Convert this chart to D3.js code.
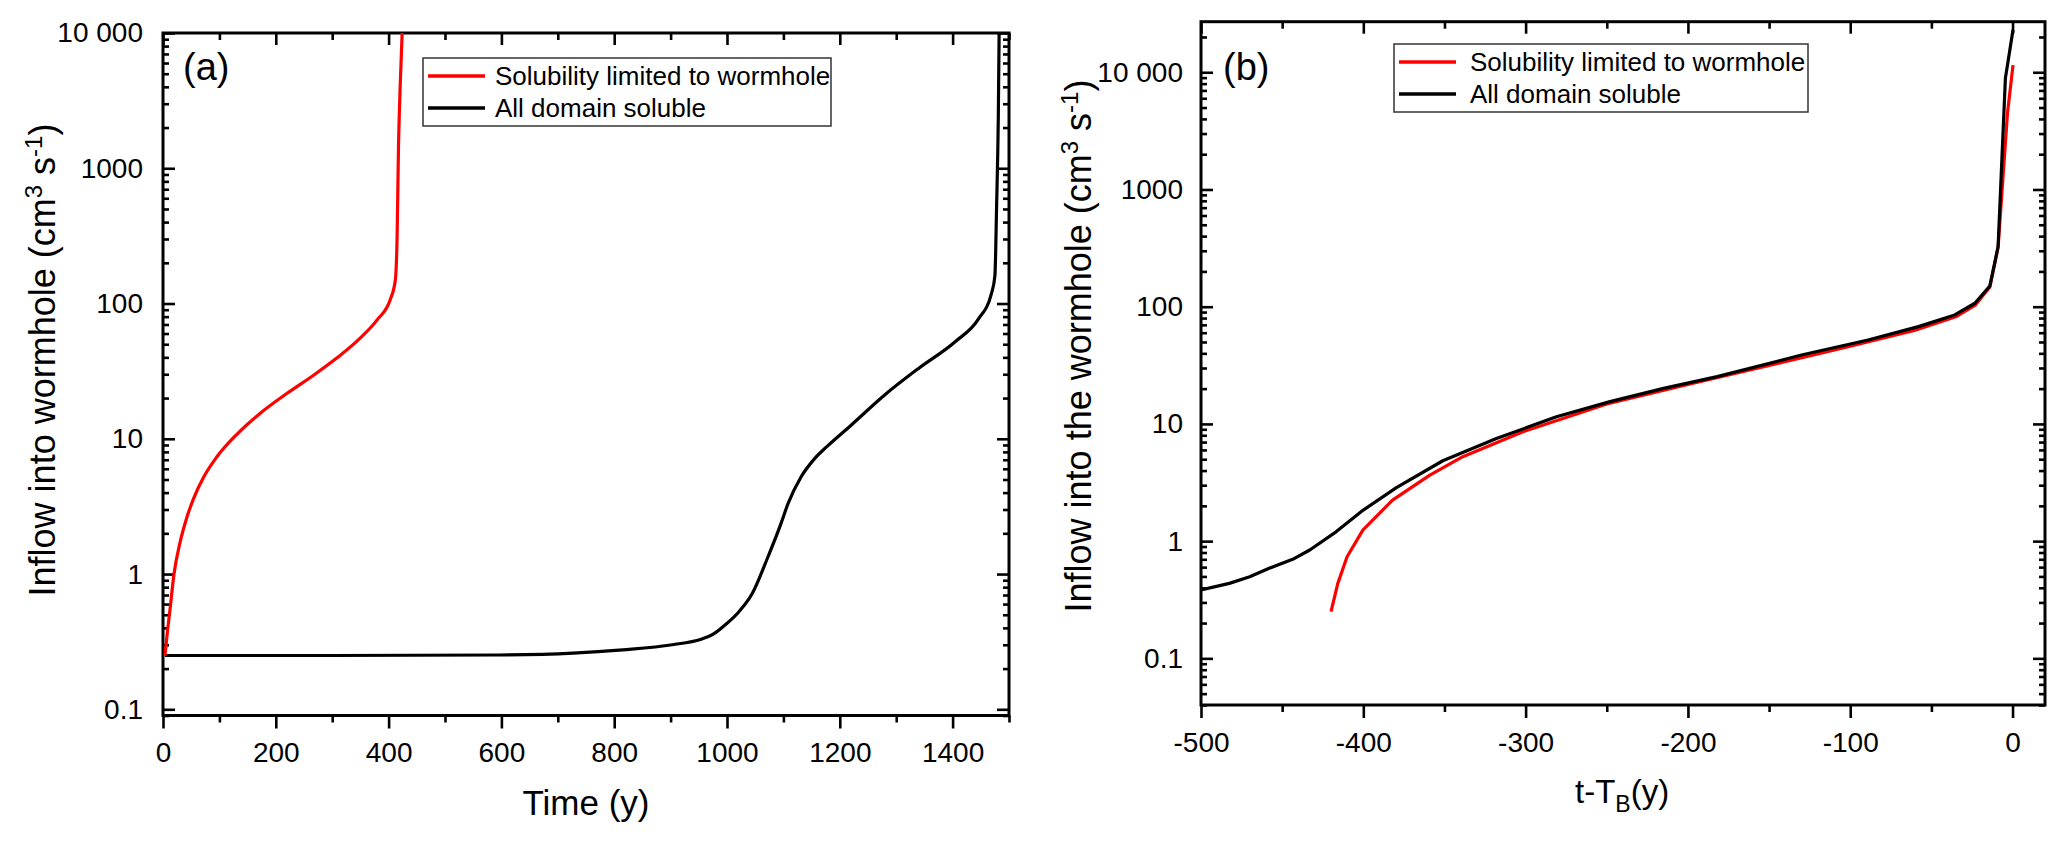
<!DOCTYPE html>
<html lang="en">
<head>
  <meta charset="UTF-8">
  <title>Inflow into wormhole</title>
  <style>
    body { margin: 0; background: #fff; }
    text { font-family: "Liberation Sans", Arial, sans-serif; fill: #000; }
  </style>
</head>
<body>

  <div id="app"></div>

  <script src="https://cdn.jsdelivr.net/npm/d3@7"></script>
  <script>
    // legend entries
    const seriesNames = ['Solubility limited to wormhole', 'All domain soluble']
    const seriesColors = ['#ff0000', '#000000']

    // panel (a): time (y) vs inflow (cm3/s)
    const aTimeLimited = [3.5, 8, 12.4, 19.5, 30, 42, 54, 72, 95, 131, 172, 220, 267, 308, 350, 380, 403, 412, 415, 417.5, 420.5, 424]
    const aFlowLimited = [0.25, 0.38, 0.545, 1.0, 1.7, 2.6, 3.6, 5.2, 7.3, 10.8, 15.4, 21.7, 29.5, 39.5, 55.7, 76, 107, 150, 300, 1400, 4000, 10000]
    const aTimeAll = [3.5, 100, 300, 594, 727, 815, 903, 954, 974, 995, 1020, 1045, 1072, 1096, 1108, 1131, 1155, 1179, 1220, 1279, 1339, 1404, 1445, 1469, 1475, 1478, 1481, 1482.5]
    const aFlowAll = [0.25, 0.25, 0.25, 0.252, 0.26, 0.275, 0.30, 0.33, 0.356, 0.415, 0.52, 0.72, 1.32, 2.38, 3.3, 5.2, 7.1, 8.9, 12.6, 21, 33, 52, 76, 119, 160, 520, 2330, 10000]

    // panel (b): t - T_B (y) vs inflow (cm3/s)
    const bTimeLimited = [-419.9, -415.7, -410, -400.3, -382, -359, -338.7, -301.7, -250, -200, -150, -100, -60, -35, -23, -14, -8.9, -3.1, 0.3]
    const bFlowLimited = [0.25, 0.436, 0.736, 1.24, 2.24, 3.66, 5.25, 8.57, 14.8, 21.7, 31.5, 46, 63, 82, 103, 147, 320, 4500, 11500]
    const bTimeAll = [-500, -482.5, -470, -458, -443.5, -433, -416.8, -400, -379.6, -351, -318, -281, -248, -215, -182, -130, -89, -58, -35.6, -23.2, -14, -8.9, -4.4, 0.3]
    const bFlowAll = [0.383, 0.436, 0.497, 0.586, 0.70, 0.84, 1.2, 1.84, 2.86, 4.85, 7.5, 11.5, 15.5, 20.1, 25.3, 38.7, 52, 67.6, 85, 107, 150, 325, 8900, 23000]

    // ticks
    const yMajor = [0.1, 1, 10, 100, 1000, 10000]
    const yMajorLabels = ['0.1', '1', '10', '100', '1000', '10 000']
    const aXMajor = [0, 200, 400, 600, 800, 1000, 1200, 1400]
    const aXMinor = [100, 300, 500, 700, 900, 1100, 1300, 1500]
    const bXMajor = [-500, -400, -300, -200, -100, 0]
    const bXMinor = [-450, -350, -250, -150, -50]

    const svg = d3.select('#app').append('svg')
      .attr('width', 2067)
      .attr('height', 842)

    const isDecade = v => Math.abs(Math.log10(v) - Math.round(Math.log10(v))) < 1e-9

    function drawPanel(p) {
      const x = p.x, y = p.y
      const [x0, x1] = x.range()
      const [y0, y1] = y.range()
      const g = svg.append('g')

      svg.append('clipPath').attr('id', p.id)
        .append('rect')
        .attr('x', x0).attr('y', y1)
        .attr('width', x1 - x0).attr('height', y0 - y1)

      const yMinor = y.ticks().filter(v => !isDecade(v))

      const style = sel => {
        sel.select('.domain').remove()
        sel.selectAll('line').attr('stroke', '#000').attr('stroke-width', 2.6)
        sel.selectAll('text')
          .attr('font-size', 28)
          .attr('font-family', '"Liberation Sans", Arial, sans-serif')
          .attr('fill', '#000')
      }

      // bottom (outward)
      g.append('g').attr('transform', `translate(0,${y0})`)
        .call(d3.axisBottom(x).tickValues(p.xMajor).tickSize(13).tickPadding(14).tickFormat(d => String(d)))
        .call(style)
      g.append('g').attr('transform', `translate(0,${y0})`)
        .call(d3.axisBottom(x).tickValues(p.xMinor).tickSize(7).tickFormat(''))
        .call(style)
      // top (inward)
      g.append('g').attr('transform', `translate(0,${y1})`)
        .call(d3.axisTop(x).tickValues(p.xMajor).tickSize(-12).tickFormat(''))
        .call(style)
      g.append('g').attr('transform', `translate(0,${y1})`)
        .call(d3.axisTop(x).tickValues(p.xMinor).tickSize(-7).tickFormat(''))
        .call(style)
      // left (inward)
      g.append('g').attr('transform', `translate(${x0},0)`)
        .call(d3.axisLeft(y).tickValues(yMajor).tickSize(-12).tickPadding(p.yPad)
          .tickFormat((d, i) => yMajorLabels[i]))
        .call(style)
      g.append('g').attr('transform', `translate(${x0},0)`)
        .call(d3.axisLeft(y).tickValues(yMinor).tickSize(-6).tickFormat(''))
        .call(style)
      // right (inward)
      g.append('g').attr('transform', `translate(${x1},0)`)
        .call(d3.axisRight(y).tickValues(yMajor).tickSize(-12).tickFormat(''))
        .call(style)
      g.append('g').attr('transform', `translate(${x1},0)`)
        .call(d3.axisRight(y).tickValues(yMinor).tickSize(-6).tickFormat(''))
        .call(style)

      // frame
      g.append('rect')
        .attr('x', x0).attr('y', y1)
        .attr('width', x1 - x0).attr('height', y0 - y1)
        .attr('fill', 'none').attr('stroke', '#000').attr('stroke-width', 3)

      // curves
      const line = d3.line()
        .x(d => x(d[0]))
        .y(d => y(d[1]))
        .curve(p.curve)

      p.series.forEach(s => {
        const pts = s.t.map((t, j) => [t, s.v[j]])
        g.append('path')
          .datum(pts)
          .attr('clip-path', `url(#${p.id})`)
          .attr('fill', 'none')
          .attr('stroke', seriesColors[s.c])
          .attr('stroke-width', 3.2)
          .attr('stroke-linejoin', 'round')
          .attr('d', line)
      })

      // legend
      const lg = g.append('g').attr('transform', `translate(${p.legend[0]},${p.legend[1]})`)
      lg.append('rect')
        .attr('width', p.legend[2]).attr('height', 68)
        .attr('fill', '#fff').attr('stroke', '#333').attr('stroke-width', 1.5)
      seriesNames.forEach((name, i) => {
        lg.append('line')
          .attr('x1', 5).attr('x2', 62)
          .attr('y1', 18 + 32 * i).attr('y2', 18 + 32 * i)
          .attr('stroke', seriesColors[i]).attr('stroke-width', 3.5)
        lg.append('text')
          .attr('x', p.legendText).attr('y', 27 + 32 * i)
          .attr('font-size', 26)
          .text(name)
      })

      // panel letter
      g.append('text')
        .attr('x', p.letter[0]).attr('y', p.letter[1])
        .attr('font-size', 38)
        .text(p.letterText)

      return g
    }

    // panel (a)
    const xa = d3.scaleLinear().domain([0, 1500]).range([163, 1009])
    const ya = d3.scaleLog().domain([0.09, 10000]).range([715.5, 33])
    drawPanel({
      id: 'clipA', x: xa, y: ya,
      xMajor: aXMajor, xMinor: aXMinor, yPad: 20,
      curve: d3.curveMonotoneX,
      series: [
        { t: aTimeAll, v: aFlowAll, c: 1 },
        { t: aTimeLimited, v: aFlowLimited, c: 0 }
      ],
      legend: [423, 58, 408], legendText: 72,
      letter: [183, 80], letterText: '(a)'
    })

    // panel (b)
    const xb = d3.scaleLinear().domain([-500, 20]).range([1201, 2045])
    const yb = d3.scaleLog().domain([0.04, 27000]).range([705, 21.7])
    drawPanel({
      id: 'clipB', x: xb, y: yb,
      xMajor: bXMajor, xMinor: bXMinor, yPad: 18,
      curve: d3.curveLinear,
      series: [
        { t: bTimeLimited, v: bFlowLimited, c: 0 },
        { t: bTimeAll, v: bFlowAll, c: 1 }
      ],
      legend: [1394, 44, 414], legendText: 76,
      letter: [1223, 80], letterText: '(b)'
    })

    // axis titles
    svg.append('text')
      .attr('x', 586).attr('y', 815)
      .attr('text-anchor', 'middle')
      .attr('font-size', 35)
      .text('Time (y)')

    const xt = svg.append('text')
      .attr('x', 1575).attr('y', 803)
      .attr('font-size', 33)
    xt.append('tspan').text('t-T')
    xt.append('tspan').attr('dy', 9).attr('font-size', 23).text('B')
    xt.append('tspan').attr('dy', -9).text('(y)')

    function yTitle(px, py, label) {
      const t = svg.append('text')
        .attr('transform', `translate(${px},${py}) rotate(-90)`)
        .attr('text-anchor', 'middle')
        .attr('font-size', 36)
      t.append('tspan').text(label + ' (cm')
      t.append('tspan').attr('dy', -13).attr('font-size', 24).text('3')
      t.append('tspan').attr('dy', 13).text(' s')
      t.append('tspan').attr('dy', -13).attr('font-size', 24).text('-1')
      t.append('tspan').attr('dy', 13).text(')')
    }
    yTitle(55, 360, 'Inflow into wormhole')
    yTitle(1091, 346, 'Inflow into the wormhole')
  </script>
</body>
</html>
